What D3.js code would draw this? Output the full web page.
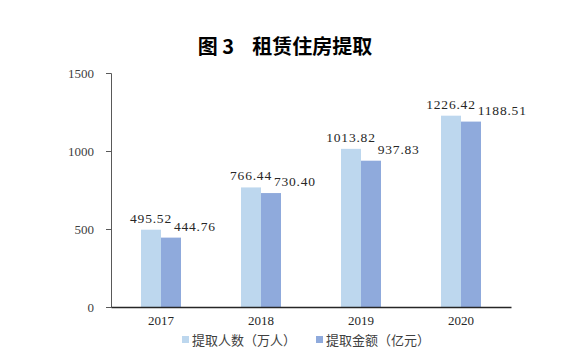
<!DOCTYPE html>
<html>
<head>
<meta charset="utf-8">
<script src="https://cdn.jsdelivr.net/npm/d3@7"></script>
<style>
  body { margin: 0; background: #fff; }
  svg { display: block; }
</style>
</head>
<body>
<div id="chart"></div>
<script>
const years = ['2017', '2018', '2019', '2020']
const people = [495.52, 766.44, 1013.82, 1226.42]
const amount = [444.76, 730.40, 937.83, 1188.51]
const seriesNames = ['提取人数（万人）', '提取金额（亿元）']
const yTicks = [0, 500, 1000, 1500]

const w = 576, h = 360
const margin = {top: 73, right: 65, bottom: 53, left: 111}
const width = w - margin.left - margin.right
const height = h - margin.top - margin.bottom
const colors = ['#bdd7ee', '#8faadc']
const numFont = '"Liberation Serif", "DejaVu Serif", serif'
const cjkFont = '"Noto Sans CJK SC", sans-serif'

const svg = d3.select('#chart').append('svg')
  .attr('width', w)
  .attr('height', h)

svg.append('text')
  .attr('x', 285)
  .attr('y', 54)
  .attr('text-anchor', 'middle')
  .style('font-family', cjkFont)
  .style('font-weight', 'bold')
  .style('font-size', '20px')
  .attr('fill', '#000')
  .attr('xml:space', 'preserve')
  .text('图 3    租赁住房提取')

const g = svg.append('g')
  .attr('transform', 'translate(' + margin.left + ',' + margin.top + ')')

const x = d3.scaleBand().domain(years).range([0, width])
const y = d3.scaleLinear().domain([0, 1500]).range([height, 0])
const barW = 20

// y axis
const yAxis = g.append('g')
  .call(d3.axisLeft(y).tickValues(yTicks).tickSize(5).tickPadding(12).tickFormat(d3.format('d')))
yAxis.select('.domain').attr('stroke', '#595959')
yAxis.selectAll('.tick line').attr('stroke', '#595959')
yAxis.selectAll('text')
  .style('font-family', numFont)
  .style('font-size', '13px')
  .attr('fill', '#404040')

// bars
years.forEach(function (yr, i) {
  const cx = x(yr) + x.bandwidth() / 2
  g.append('rect')
    .attr('x', cx - barW)
    .attr('y', y(people[i]))
    .attr('width', barW)
    .attr('height', height - y(people[i]))
    .attr('fill', colors[0])
  g.append('rect')
    .attr('x', cx)
    .attr('y', y(amount[i]))
    .attr('width', barW)
    .attr('height', height - y(amount[i]))
    .attr('fill', colors[1])

  const t1 = g.append('text')
    .attr('x', cx - barW / 2)
    .attr('y', y(people[i]) - 7)
    .attr('text-anchor', 'middle')
    .style('font-family', numFont)
    .style('font-size', '13.5px')
    .style('letter-spacing', '0.8px')
    .attr('fill', '#262626')
    .text(people[i].toFixed(2))
  const right1 = cx - barW / 2 + t1.node().getComputedTextLength() / 2
  g.append('text')
    .attr('x', Math.max(cx + 2, right1 + 2))
    .attr('y', y(amount[i]) - 7)
    .style('font-family', numFont)
    .style('font-size', '13.5px')
    .style('letter-spacing', '0.8px')
    .attr('fill', '#262626')
    .text(amount[i].toFixed(2))
})

// x axis
const xAxis = g.append('g')
  .attr('transform', 'translate(0,' + height + ')')
  .call(d3.axisBottom(x).tickSize(0).tickPadding(9))
xAxis.select('.domain').attr('stroke', '#262626').attr('stroke-width', 1.3)
xAxis.selectAll('text')
  .style('font-family', numFont)
  .style('font-size', '13px')
  .attr('fill', '#262626')

// legend
const legend = svg.append('g').attr('transform', 'translate(182,345)')
const lx = [0, 134]
seriesNames.forEach(function (name, i) {
  legend.append('rect')
    .attr('x', lx[i])
    .attr('y', -9)
    .attr('width', 7)
    .attr('height', 7)
    .attr('fill', colors[i])
  legend.append('text')
    .attr('x', lx[i] + 10)
    .attr('y', 0)
    .style('font-family', cjkFont)
    .style('font-size', '13px')
    .attr('fill', '#404040')
    .text(name)
})
</script>
</body>
</html>
